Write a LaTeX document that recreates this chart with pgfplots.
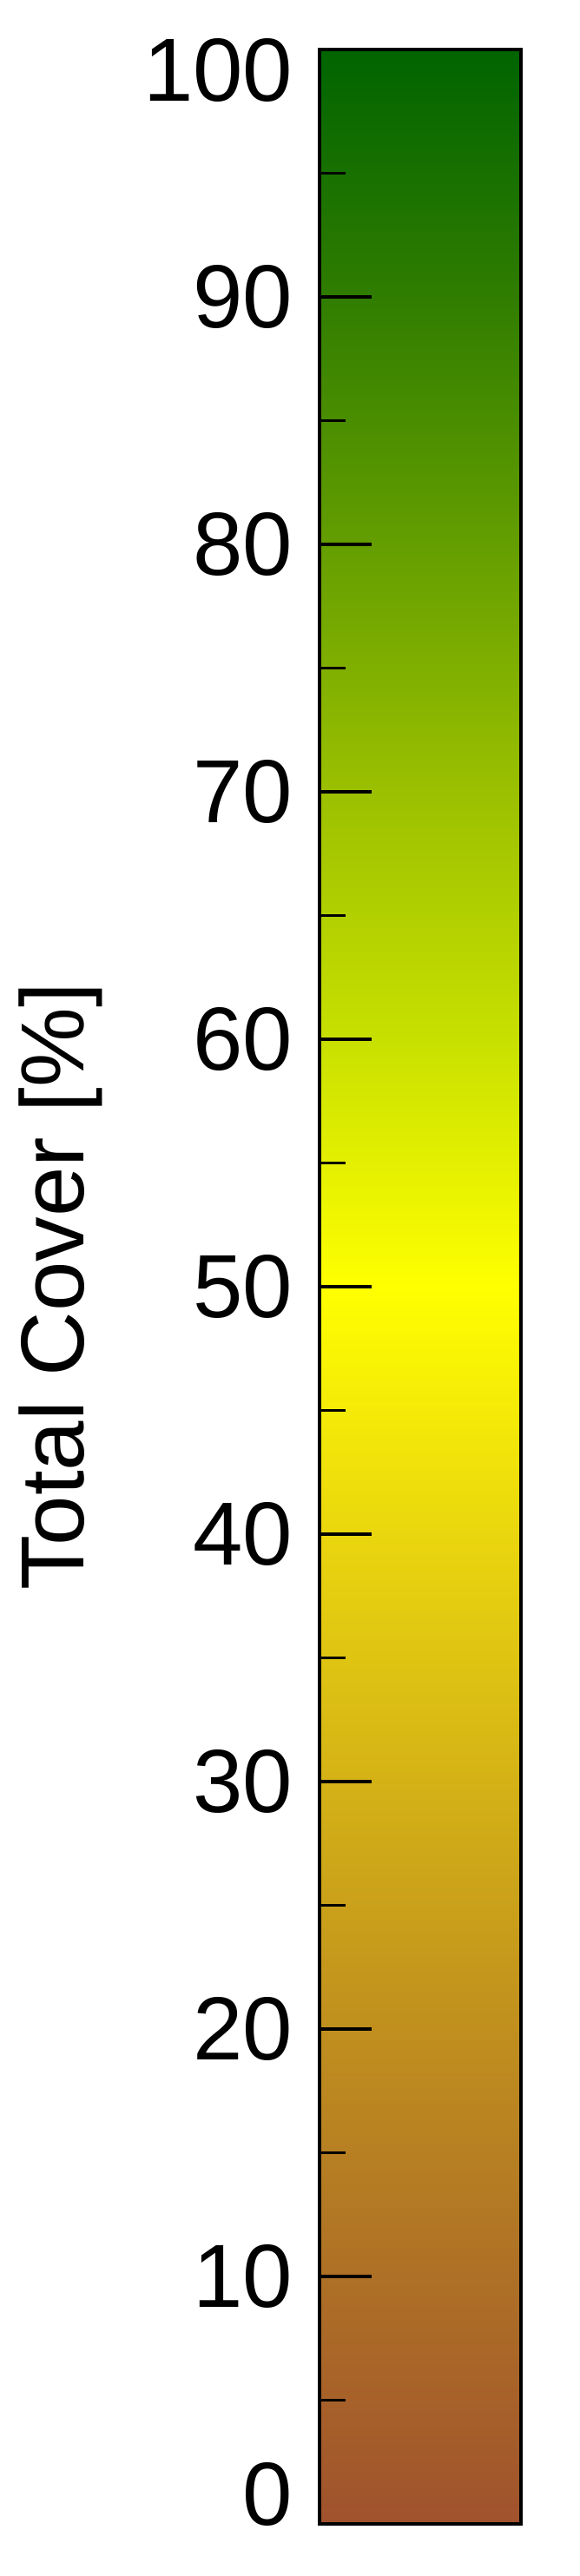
\documentclass[border=0pt]{standalone}
\usepackage{fontspec}
\setmainfont{Liberation Sans}
\usepackage{pgfplots}
\pgfplotsset{compat=1.18}
\newcommand\barfont{\fontsize{25.8}{31}\selectfont}
\begin{document}
\begin{tikzpicture}
\begin{axis}[
  scale only axis,
  width=58pt, height=712.5pt,
  xmin=0, xmax=1, ymin=0, ymax=100,
  xtick=\empty,
  ytick={0,10,...,100},
  minor ytick={5,15,...,95},
  yticklabels={\raisebox{8.5pt}[\height][\depth]{0},10,20,30,40,50,60,70,80,90,\raisebox{-6pt}[\height][\depth]{100}},
  ytick pos=left,
  tick align=inside,
  major tick length=15pt,
  minor tick length=7.5pt,
  every tick/.style={black, line width=0.8pt},
  axis line style={black, line width=0.8pt},
  /pgf/number format/assume math mode=true,
  yticklabel style={font=\barfont, inner sep=0pt, xshift=-7.5pt},
  ylabel={Total Cover [\%]},
  ylabel style={font=\barfont, at={(axis description cs:0,0.5)}, anchor=base, yshift=67.75pt},
  colormap={cover}{rgb255(0)=(160,82,45) rgb255(10)=(174,112,38) rgb255(20)=(192,143,30)
    rgb255(30)=(212,178,22) rgb255(40)=(234,214,14) rgb255(50)=(255,255,0)
    rgb255(60)=(200,224,0) rgb255(70)=(155,192,0) rgb255(80)=(100,158,0)
    rgb255(90)=(48,125,0) rgb255(100)=(0,100,0)},
  point meta min=0, point meta max=100,
  axis on top,
]
\addplot[surf, shader=interp, mesh/cols=2, point meta=explicit] table[meta=c] {
x y c
0 0 0
1 0 0

0 10 10
1 10 10

0 20 20
1 20 20

0 30 30
1 30 30

0 40 40
1 40 40

0 50 50
1 50 50

0 60 60
1 60 60

0 70 70
1 70 70

0 80 80
1 80 80

0 90 90
1 90 90

0 100 100
1 100 100
};
\coordinate (sw) at (rel axis cs:0,0);
\end{axis}
\pgfresetboundingbox
\path ([shift={(-92pt,-15pt)}]sw) rectangle ++(166.75pt,741.75pt);
\end{tikzpicture}
\end{document}
